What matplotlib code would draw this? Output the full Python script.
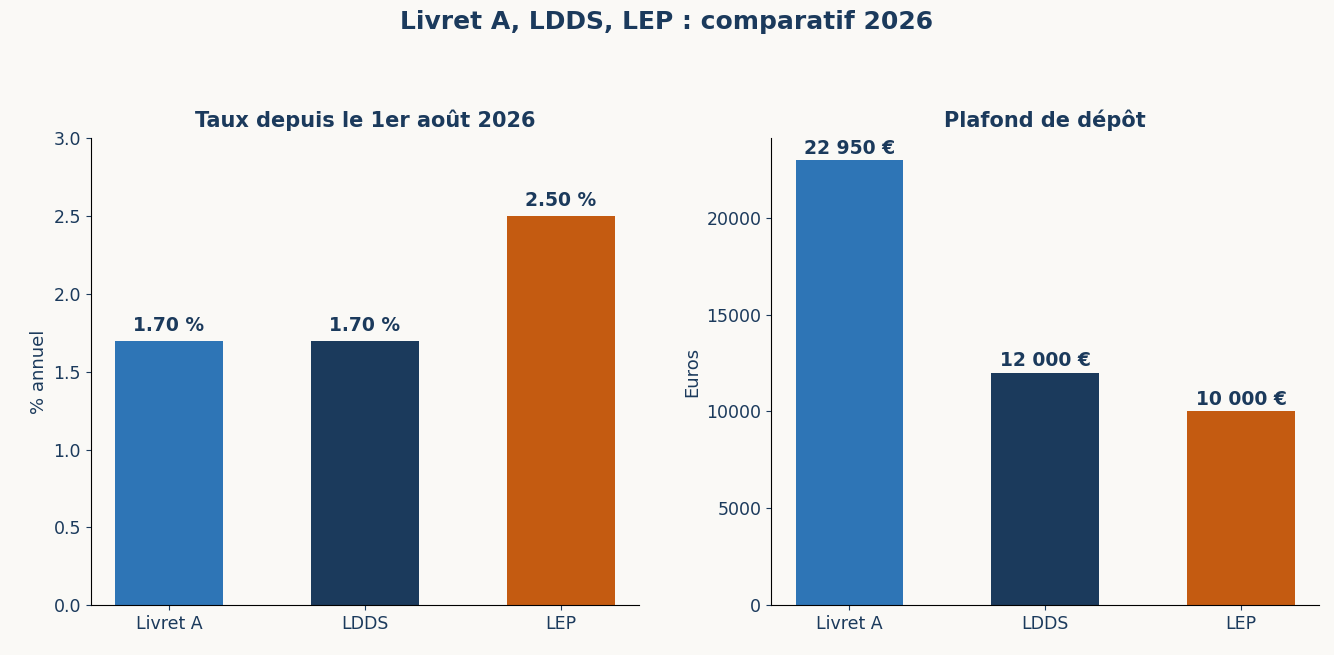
import matplotlib
matplotlib.use("Agg")
import matplotlib.pyplot as plt

categories = ["Livret A", "LDDS", "LEP"]
taux = [1.70, 1.70, 2.50]
taux_labels = ["1.70 %", "1.70 %", "2.50 %"]
plafond = [22950, 12000, 10000]
plafond_labels = ["22 950 €", "12 000 €", "10 000 €"]
colors = ["#2e75b6", "#1b3a5c", "#c45b11"]
txt = "#1b3a5c"
bg = "#faf9f6"

fig = plt.figure(figsize=(13.34, 6.55), dpi=100, facecolor=bg)
ax1 = fig.add_axes([0.068, 0.076, 0.411, 0.713], facecolor=bg)
ax2 = fig.add_axes([0.578, 0.076, 0.411, 0.713], facecolor=bg)

def style(ax):
    for s in ["top", "right"]:
        ax.spines[s].set_visible(False)
    ax.tick_params(colors=txt, labelsize=12.5)
    ax.set_xlim(-0.4, 2.4)

b1 = ax1.bar(categories, taux, width=0.55, color=colors)
ax1.set_ylim(0, 3.0)
ax1.set_title("Taux depuis le 1er août 2026", fontsize=15, fontweight="bold", color=txt, pad=8)
ax1.set_ylabel("% annuel", fontsize=13, color=txt)
for r, l in zip(b1, taux_labels):
    ax1.annotate(l, (r.get_x() + r.get_width() / 2, r.get_height()), xytext=(0, 4),
                 textcoords="offset points", ha="center", va="bottom",
                 fontsize=13.5, fontweight="bold", color=txt)
style(ax1)

b2 = ax2.bar(categories, plafond, width=0.55, color=colors)
ax2.set_ylim(0, 24100)
ax2.set_title("Plafond de dépôt", fontsize=15, fontweight="bold", color=txt, pad=8)
ax2.set_ylabel("Euros", fontsize=13, color=txt)
for r, l in zip(b2, plafond_labels):
    ax2.annotate(l, (r.get_x() + r.get_width() / 2, r.get_height()), xytext=(0, 2),
                 textcoords="offset points", ha="center", va="bottom",
                 fontsize=13.5, fontweight="bold", color=txt)
style(ax2)

fig.suptitle("Livret A, LDDS, LEP : comparatif 2026", fontsize=18, fontweight="bold", color=txt, y=0.985)
fig.savefig("out.png", facecolor=bg)
